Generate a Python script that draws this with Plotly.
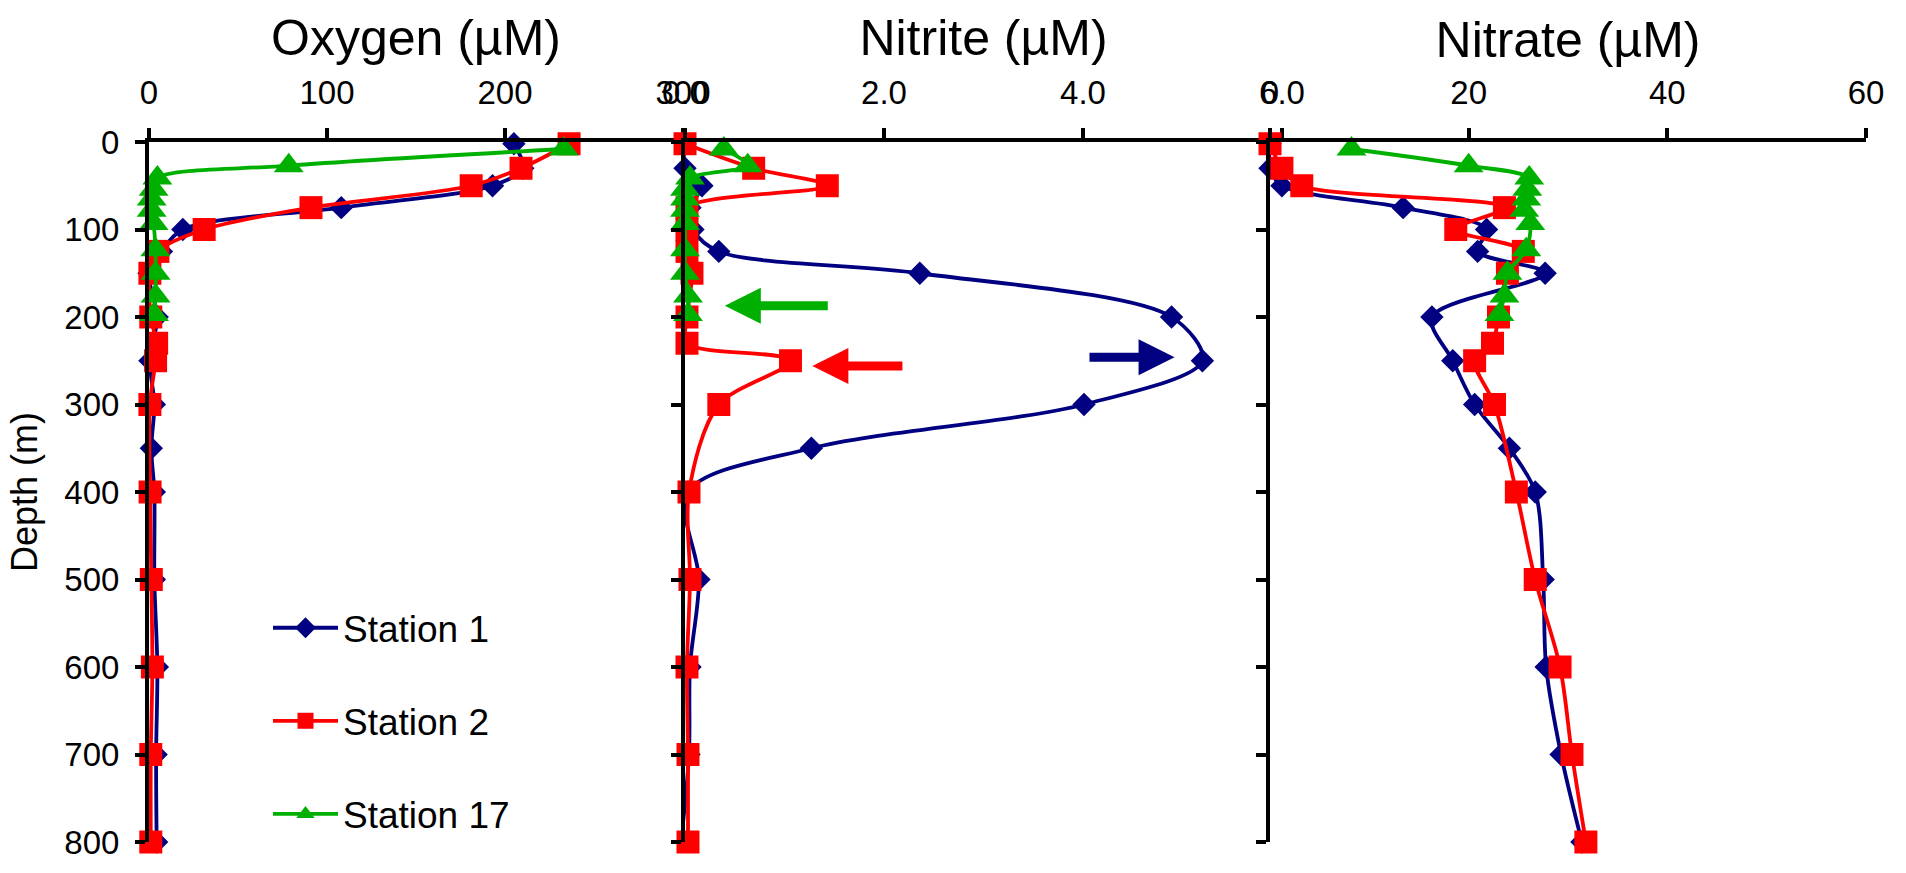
import plotly.graph_objects as go

# Sampling depths (m) for each station
depth_st1 = [2, 30, 50, 75, 100, 125, 150, 200, 250, 300, 350, 400, 500, 600, 700, 800]
depth_st2 = [2, 30, 50, 75, 100, 125, 150, 200, 230, 250, 300, 400, 500, 600, 700, 800]
depth_st17 = [8, 27, 41, 54, 65, 78, 93, 123, 150, 176, 197]

# Dissolved oxygen (µM)
oxygen_st1 = [205, 210, 193, 108, 19, 7, 0, 4.6, 0.5, 3, 1.3, 3, 3, 4.7, 4, 4.3]
oxygen_st2 = [236, 209, 181, 91, 31, 5, 0.5, 1, 4.3, 3.7, 0.5, 0.6, 1.3, 1.9, 1, 1]
oxygen_st17 = [233, 78.5, 4.7, 2.6, 1.5, 1.5, 2.6, 3.6, 3.7, 3.7, 2.8]

# Nitrite (µM)
nitrite_st1 = [0.0, 0.0, 0.17, 0.05, 0.08, 0.34, 2.36, 4.89, 5.2, 4.01, 1.27, 0.03, 0.14, 0.05, 0.04, -0.04]
nitrite_st2 = [0.0, 0.69, 1.43, 0.02, 0.02, 0.02, 0.07, 0.02, 0.02, 1.06, 0.34, 0.04, 0.05, 0.02, 0.03, 0.03]
nitrite_st17 = [0.39, 0.63, 0.05, 0.0, 0.0, 0.0, 0.0, 0.0, 0.0, 0.03, 0.03]

# Nitrate (µM)
nitrate_st1 = [0.0, 0.0, 1.2, 13.4, 21.8, 20.9, 27.7, 16.3, 18.4, 20.6, 24.1, 26.7, 27.5, 27.8, 29.3, 31.4]
nitrate_st2 = [0.0, 1.2, 3.2, 23.6, 18.7, 25.5, 23.9, 23.0, 22.4, 20.6, 22.6, 24.8, 26.7, 29.2, 30.4, 31.8]
nitrate_st17 = [8.2, 20.0, 26.1, 25.9, 25.8, 25.6, 26.2, 25.8, 23.9, 23.6, 23.1]

station_names = ["Station 1", "Station 2", "Station 17"]
panel_titles = ["Oxygen (µM)", "Nitrite (µM)", "Nitrate (µM)"]
depth_ticks = [0, 100, 200, 300, 400, 500, 600, 700, 800]

FONT = "Liberation Sans, Arial, sans-serif"
NAVY = "#000080"
RED = "#FF0000"
GREEN = "#00B000"

styles = [
    dict(color=NAVY, symbol="diamond", size=18),
    dict(color=RED, symbol="square", size=23),
    dict(color=GREEN, symbol="triangle-up", size=26),
]

panels = [
    ("x", "y", [oxygen_st1, oxygen_st2, oxygen_st17]),
    ("x2", "y2", [nitrite_st1, nitrite_st2, nitrite_st17]),
    ("x3", "y3", [nitrate_st1, nitrate_st2, nitrate_st17]),
]
depths = [depth_st1, depth_st2, depth_st17]

fig = go.Figure()
for p, (xa, ya, series) in enumerate(panels):
    for s, values in enumerate(series):
        st = styles[s]
        fig.add_trace(go.Scatter(
            x=values, y=depths[s], xaxis=xa, yaxis=ya,
            mode="lines+markers",
            name=station_names[s],
            legendgroup=station_names[s],
            showlegend=(p == 0),
            line=dict(color=st["color"], width=3.8, shape="spline", smoothing=0.9),
            marker=dict(color=st["color"], symbol=st["symbol"], size=st["size"],
                        line=dict(width=0)),
            cliponaxis=False,
            hoverinfo="skip",
        ))

# plot-area geometry (pixels)
W, H = 1906, 873
LEFT, RIGHT, TOP, BOTTOM = 149, 40, 142, 19
pw = W - LEFT - RIGHT
ph = H - TOP - BOTTOM


def dom(a, b):
    return [(a - LEFT) / pw, (b - LEFT) / pw]


axis_common = dict(
    side="top", showline=True, linecolor="black", linewidth=4,
    ticks="outside", ticklen=10, tickwidth=4, tickcolor="black",
    showgrid=False, zeroline=False,
    tickfont=dict(family=FONT, size=33, color="black"),
    ticklabelstandoff=11,
)
title_font = dict(family=FONT, size=50, color="black")

yaxis_common = dict(
    range=[800, 0], tickvals=depth_ticks, showline=True, linecolor="black",
    linewidth=4, ticks="outside", ticklen=10, tickwidth=4, tickcolor="black",
    showgrid=False, zeroline=False,
    tickfont=dict(family=FONT, size=33, color="black"),
)

fig.update_layout(
    width=W, height=H,
    margin=dict(l=LEFT, r=RIGHT, t=TOP, b=BOTTOM, pad=0),
    paper_bgcolor="white", plot_bgcolor="rgba(0,0,0,0)",
    showlegend=True,
    xaxis=dict(axis_common, domain=dom(149, 683), range=[0, 300],
               tickvals=[0, 100, 200, 300], anchor="y",
               title=dict(text=panel_titles[0], font=title_font, standoff=3)),
    xaxis2=dict(axis_common, domain=dom(685, 1282), range=[0, 6],
                tickvals=[0, 2, 4, 6], tickformat=".1f", anchor="y2",
                title=dict(text=panel_titles[1], font=title_font, standoff=3)),
    xaxis3=dict(axis_common, domain=dom(1270, 1866), range=[0, 60],
                tickvals=[0, 20, 40, 60], anchor="y3",
                title=dict(text=panel_titles[2], font=title_font, standoff=1)),
    yaxis=dict(yaxis_common, anchor="x", ticklabelstandoff=9,
               title=dict(text="Depth (m)", font=dict(family=FONT, size=36, color="black"),
                          standoff=17)),
    yaxis2=dict(yaxis_common, anchor="x2", matches="y", showticklabels=False),
    yaxis3=dict(yaxis_common, anchor="x3", matches="y", showticklabels=False),
    legend=dict(
        x=(268 - LEFT) / pw, y=(H - BOTTOM - 605) / ph,
        xanchor="left", yanchor="top",
        font=dict(family=FONT, size=37, color="black"),
        bgcolor="rgba(0,0,0,0)", borderwidth=0,
        traceorder="grouped", tracegroupgap=42, itemwidth=65,
    ),
)

# arrows marking the nitrite maxima
arrow_specs = [
    dict(x=0.40, y=187, ax=1.45, ay=187, color=GREEN),
    dict(x=1.28, y=256, ax=2.2, ay=256, color=RED),
    dict(x=4.92, y=246, ax=4.05, ay=246, color=NAVY),
]
for a in arrow_specs:
    fig.add_annotation(
        x=a["x"], y=a["y"], ax=a["ax"], ay=a["ay"],
        xref="x2", yref="y2", axref="x2", ayref="y2",
        text="", showarrow=True, arrowhead=2, arrowsize=0.8,
        arrowwidth=9, arrowcolor=a["color"], standoff=0, startstandoff=0,
    )

fig.write_html("out.html")
